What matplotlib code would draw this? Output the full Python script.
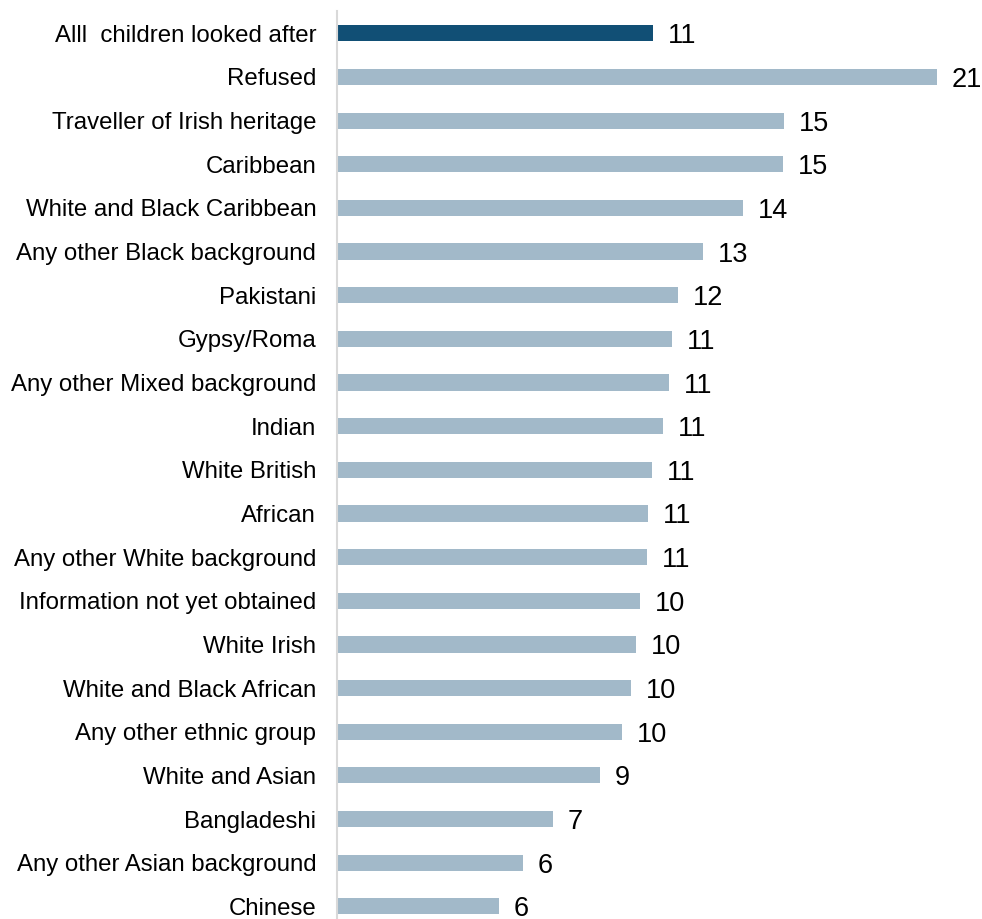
import matplotlib
matplotlib.use('Agg')
import matplotlib.pyplot as plt

# Data (top to bottom)
groups = ['Alll  children looked after', 'Refused', 'Traveller of Irish heritage',
          'Caribbean', 'White and Black Caribbean', 'Any other Black background',
          'Pakistani', 'Gypsy/Roma', 'Any other Mixed background', 'Indian',
          'White British', 'African', 'Any other White background',
          'Information not yet obtained', 'White Irish', 'White and Black African',
          'Any other ethnic group', 'White and Asian', 'Bangladeshi',
          'Any other Asian background', 'Chinese']
values = [10.82, 20.54, 15.31, 15.27, 13.90, 12.55, 11.68, 11.47, 11.37, 11.16,
          10.79, 10.65, 10.62, 10.38, 10.24, 10.07, 9.76, 9.01, 7.39, 6.37, 5.55]
value_labels = ['11', '21', '15', '15', '14', '13', '12', '11', '11', '11',
                '11', '11', '11', '10', '10', '10', '10', '9', '7', '6', '6']

dark = '#114F75'
light = '#A2B9C9'
colors = [dark] + [light] * (len(groups) - 1)

W, H = 982, 919
fig = plt.figure(figsize=(W / 100, H / 100), dpi=100)
plt.rcParams['font.family'] = ['Liberation Sans', 'DejaVu Sans']

# axes placed in pixel terms
left_px, top_px = 337, 11.5
xmax = 22
px_per_unit = 29.2
row_px = 43.65
ax = fig.add_axes([left_px / W, (H - top_px - row_px * len(groups)) / H,
                   xmax * px_per_unit / W, row_px * len(groups) / H])

y = list(range(len(groups)))
ax.barh(y, values, height=0.37, color=colors)
ax.set_ylim(len(groups) - 0.5, -0.5)
ax.set_xlim(0, xmax)

for yi, v, lab in zip(y, values, value_labels):
    ax.annotate(lab, (v, yi), xytext=(10.5, 0), textcoords='offset points',
                va='center_baseline', ha='left', fontsize=19.5, color='black',
                annotation_clip=False)

ax.set_yticks(y)
ax.set_yticklabels(groups, fontsize=17.3)
ax.tick_params(axis='y', length=0, pad=15)
ax.set_xticks([])
for s in ['top', 'right', 'bottom']:
    ax.spines[s].set_visible(False)
ax.spines['left'].set_color('#D9D9D9')
ax.spines['left'].set_linewidth(1.5)

fig.savefig('out.png', dpi=100, facecolor='white')
